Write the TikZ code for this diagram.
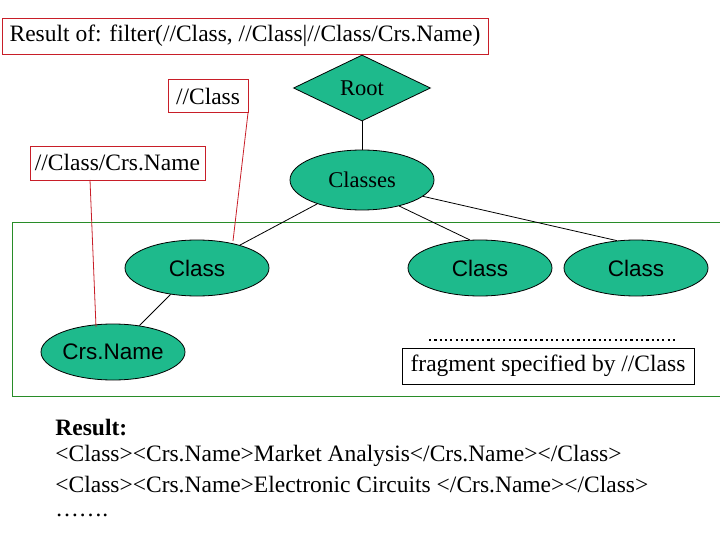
\documentclass[tikz,border=0pt]{standalone}
\usepackage{fontspec}
\setmainfont{Liberation Serif}
\setsansfont{Liberation Sans}
\usetikzlibrary{shapes.geometric}
\definecolor{teal1}{RGB}{30,186,140}
\definecolor{dred}{RGB}{200,30,40}
\definecolor{dgreen}{RGB}{40,140,40}
\begin{document}
\begin{tikzpicture}[x=1pt,y=-1pt,line width=0.8pt,
  ell/.style={ellipse,draw=black,fill=teal1,minimum width=144,minimum height=56,inner sep=0,font=\sffamily\fontsize{22.5}{26}\selectfont},
  rbox/.style={draw=dred,inner sep=0,font=\fontsize{23.5}{27}\selectfont},
  txt/.style={anchor=west,inner sep=0,font=\fontsize{23.5}{27}\selectfont}]
\useasboundingbox (0,0) rectangle (720,540);
\node[rbox,minimum width=486,minimum height=36] (top) at (245,36) {Result of: filter(//Class, //Class|//Class/Crs.Name)};
\node[rbox,minimum width=80,minimum height=33] (bc) at (208,96) {//Class};
\node[rbox,minimum width=175,minimum height=34] (bcc) at (117.5,163) {//Class/Crs.Name};
\draw[dgreen] (12,222) rectangle (722,396);
\node[diamond,draw=black,fill=teal1,minimum width=137,minimum height=66,inner sep=0,aspect=2,font=\fontsize{22.5}{26}\selectfont] (root) at (362,88) {Root};
\node[ell,font=\fontsize{22.5}{26}\selectfont,minimum height=60] (classes) at (362,180) {Classes};
\node[ell] (c1) at (197,268) {Class};
\node[ell] (c2) at (480,268) {Class};
\node[ell] (c3) at (636,268) {Class};
\node[ell] (cn) at (113,352) {Crs.Name};
\draw (root) -- (classes);
\draw (classes) -- (c1);
\draw (classes.-35) -- (c2.110);
\draw (classes.-15) -- (c3.125);
\draw (c1) -- (cn);
\coordinate (a1) at (248,113);
\coordinate (a2) at (233,241);
\draw[dred] (a1) -- (a2);
\coordinate (b1) at (90,180);
\coordinate (b2) at (96,327);
\draw[dred] (b1) -- (b2);
\coordinate (d1) at (429,340);
\coordinate (d2) at (676,340);
\draw[line width=2.2pt,dash pattern=on 2.2pt off 3.1pt] (d1) -- (d2);
\node[draw=black,minimum width=292,minimum height=36,inner sep=0,font=\fontsize{23.5}{27}\selectfont] (frag) at (548,366) {fragment specified by //Class};
\node[txt,font=\fontsize{23.5}{27}\selectfont\bfseries] (r0) at (55,428) {Result:};
\node[txt] (r1) at (55,456) {<Class><Crs.Name>Market Analysis</Crs.Name></Class>};
\node[txt] (r2) at (55,485) {<Class><Crs.Name>Electronic Circuits </Crs.Name></Class>};
\node[txt] (r3) at (55,515) {…….};
\end{tikzpicture}
\end{document}
